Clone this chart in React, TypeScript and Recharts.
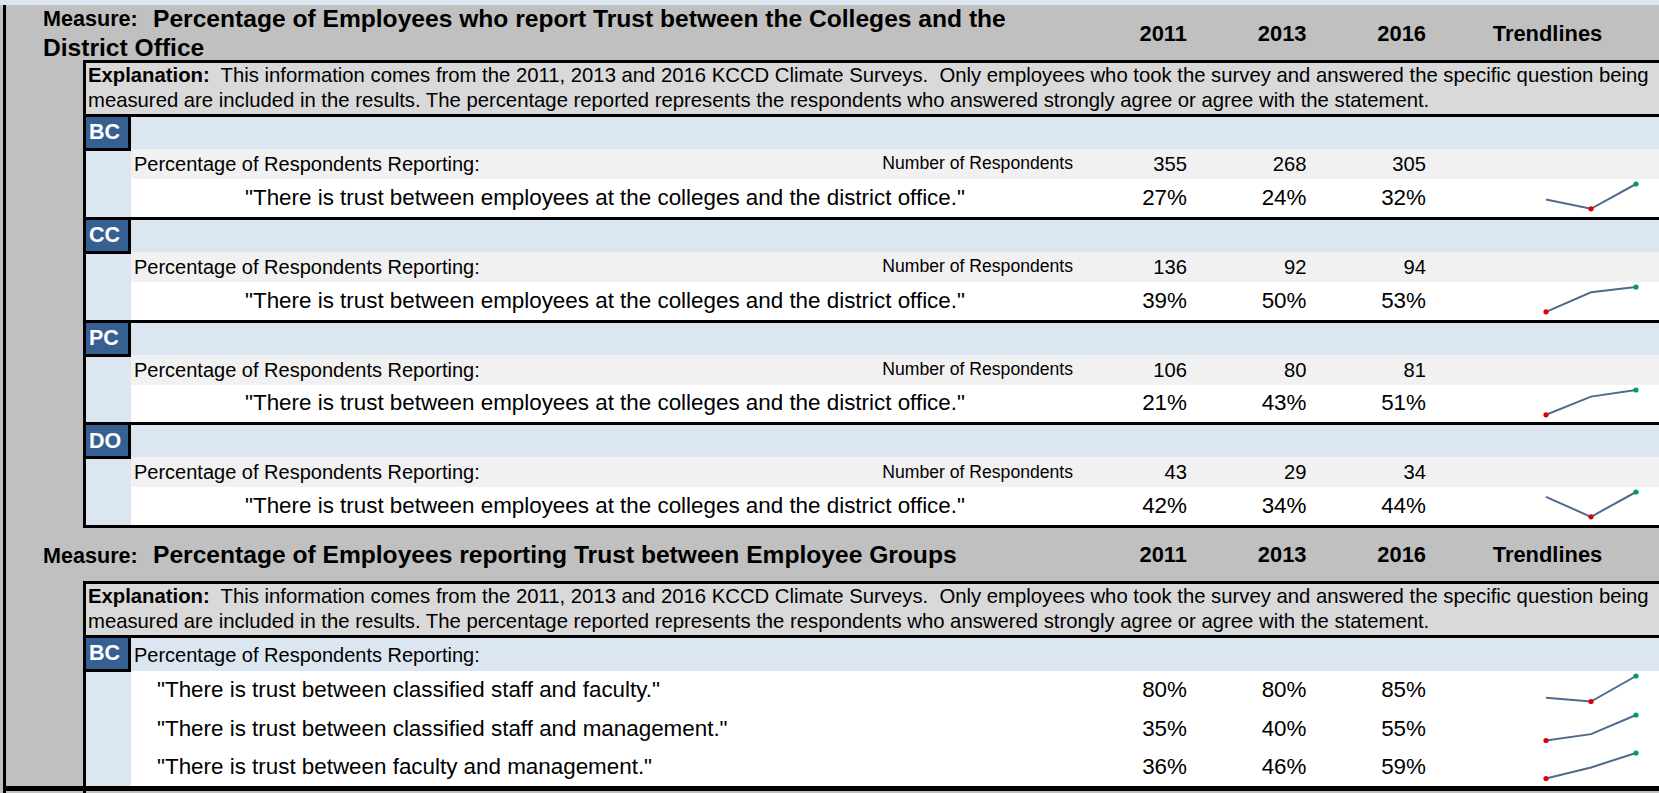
import React from "react";
import { LineChart, Line, XAxis, YAxis } from "recharts";

// survey years (column headers and sparkline categories)
const years = ["2011", "2013", "2016"];

// measure 1: trust between colleges and district office
const measure1Title = "Percentage of Employees who report Trust between the Colleges and the";
const measure1Title2 = "District Office";
const collegeCodes = ["BC", "CC", "PC", "DO"];
const bcRespondents = [355, 268, 305];
const ccRespondents = [136, 92, 94];
const pcRespondents = [106, 80, 81];
const doRespondents = [43, 29, 34];
const bcTrustDistrict = [27, 24, 32];
const ccTrustDistrict = [39, 50, 53];
const pcTrustDistrict = [21, 43, 51];
const doTrustDistrict = [42, 34, 44];
const districtStatement =
  "\"There is trust between employees at the colleges and the district office.\"";

// measure 2: trust between employee groups (BC only)
const measure2Title = "Percentage of Employees reporting Trust between Employee Groups";
const groupStatements = [
  "\"There is trust between classified staff and faculty.\"",
  "\"There is trust between classified staff and management.\"",
  "\"There is trust between faculty and management.\"",
];
const bcClassifiedFaculty = [80.4, 79.6, 85.2];
const bcClassifiedManagement = [35, 40, 55];
const bcFacultyManagement = [36, 46, 59];

const explanationLine1 =
  "This information comes from the 2011, 2013 and 2016 KCCD Climate Surveys.  Only employees who took the survey and answered the specific question being";
const explanationLine2 =
  "measured are included in the results. The percentage reported represents the respondents who answered strongly agree or agree with the statement.";

const respondentsByCollege = [bcRespondents, ccRespondents, pcRespondents, doRespondents];
const trustByCollege = [bcTrustDistrict, ccTrustDistrict, pcTrustDistrict, doTrustDistrict];
const groupValues = [bcClassifiedFaculty, bcClassifiedManagement, bcFacultyManagement];

const W = 1659;
const H = 793;
const FONT = '"Liberation Sans", Arial, Helvetica, sans-serif';
const GRAY = "#c0c0c0";
const EXPL = "#d9d9d9";
const LBLUE = "#dce6f1";
const DBLUE = "#366092";
const ROWGRAY = "#f1f1f1";
const BLACK = "#000";
const LINE = "#4f6a8f";

const NUM_R = [1187, 1306.5, 1426];
const TREND_C = 1547.5;
const SPARK_L = 1536;
const SPARK_W = 110;

function Rect({ x, y, w, h, bg }: { x: number; y: number; w: number; h: number; bg: string }) {
  return (
    <div style={{ position: "absolute", left: x, top: y, width: w, height: h, background: bg }} />
  );
}

function Txt({
  x,
  y,
  size,
  bold,
  align = "left",
  color = "#000",
  children,
}: {
  x: number;
  y: number;
  size: number;
  bold?: boolean;
  align?: "left" | "right" | "center";
  color?: string;
  children: React.ReactNode;
}) {
  const boxW = 1600;
  const left = align === "left" ? x : align === "right" ? x - boxW : x - boxW / 2;
  return (
    <div
      style={{
        position: "absolute",
        left,
        top: y - size / 2,
        width: boxW,
        height: size,
        lineHeight: `${size}px`,
        fontSize: size,
        fontWeight: bold ? 700 : 400,
        textAlign: align,
        whiteSpace: "pre",
        color,
        fontFamily: FONT,
      }}
    >
      {children}
    </div>
  );
}

function Spark({ y, h, values }: { y: number; h: number; values: number[] }) {
  const data = years.map((yr, i) => ({ year: yr, v: values[i] }));
  const lo = Math.min(...values);
  const hi = Math.max(...values);
  const renderDot = (props: any) => {
    const { cx, cy, index, payload } = props;
    const v = payload.v;
    const fill = v === hi ? "#00a050" : v === lo ? "#e00000" : null;
    if (!fill) return <g key={`d${index}`} />;
    return <circle key={`d${index}`} cx={cx} cy={cy} r={2.6} fill={fill} />;
  };
  return (
    <div style={{ position: "absolute", left: SPARK_L, top: y }}>
      <LineChart width={SPARK_W} height={h} data={data} margin={{ top: 5, right: 10, bottom: 8, left: 10 }}>
        <XAxis dataKey="year" hide scale="point" />
        <YAxis hide type="number" domain={[lo, hi]} />
        <Line
          type="linear"
          dataKey="v"
          stroke={LINE}
          strokeWidth={2}
          dot={renderDot}
          activeDot={false}
          isAnimationActive={false}
        />
      </LineChart>
    </div>
  );
}

function Label({ y, code }: { y: number; code: string }) {
  return (
    <>
      <Rect x={86} y={y} w={42} h={31} bg={DBLUE} />
      <Rect x={128} y={y} w={3} h={34} bg={BLACK} />
      <Rect x={86} y={y + 31} w={45} h={3} bg={BLACK} />
      <Txt x={89} y={y + 16} size={21.5} bold color="#fff">
        {code}
      </Txt>
    </>
  );
}

function Header({ y, children }: { y: number; children?: React.ReactNode }) {
  return (
    <>
      {children}
      {years.map((yr, i) => (
        <Txt key={yr} x={NUM_R[i]} y={y} size={21.9} bold align="right">
          {yr}
        </Txt>
      ))}
      <Txt x={TREND_C} y={y} size={21.9} bold align="center">
        Trendlines
      </Txt>
    </>
  );
}

function Explanation({ y }: { y: number }) {
  return (
    <>
      <Rect x={86} y={y} w={W - 86} h={3} bg={BLACK} />
      <Rect x={86} y={y + 3} w={W - 86} h={51} bg={EXPL} />
      <Rect x={86} y={y + 54} w={W - 86} h={3} bg={BLACK} />
      <Txt x={88} y={y + 15.5} size={20.3}>
        <b>Explanation:</b>
        {"  " + explanationLine1}
      </Txt>
      <Txt x={88} y={y + 40.5} size={20.3}>
        {explanationLine2}
      </Txt>
    </>
  );
}

function CollegeSection({ idx }: { idx: number }) {
  const S = 117 + idx * 102.8;
  const resp = respondentsByCollege[idx];
  const trust = trustByCollege[idx];
  return (
    <>
      <Rect x={86} y={S} w={W - 86} h={32} bg={LBLUE} />
      <Rect x={86} y={S + 32} w={45} h={68} bg={LBLUE} />
      <Rect x={131} y={S + 32} w={W - 131} h={30} bg={ROWGRAY} />
      <Rect x={131} y={S + 62} w={W - 131} h={37.8} bg="#fff" />
      <Rect x={83} y={S + 99.8} w={W - 83} h={3} bg={BLACK} />
      <Label y={S} code={collegeCodes[idx]} />
      <Txt x={134} y={S + 47} size={20}>
        Percentage of Respondents Reporting:
      </Txt>
      <Txt x={1073} y={S + 47} size={17.6} align="right">
        Number of Respondents
      </Txt>
      {resp.map((n, i) => (
        <Txt key={i} x={NUM_R[i]} y={S + 47} size={20.2} align="right">
          {String(n)}
        </Txt>
      ))}
      <Txt x={245} y={S + 81} size={22.4}>
        {districtStatement}
      </Txt>
      {trust.map((v, i) => (
        <Txt key={i} x={NUM_R[i]} y={S + 81} size={22.4} align="right">
          {`${Math.round(v)}%`}
        </Txt>
      ))}
      <Spark y={S + 62} h={37.8} values={trust} />
    </>
  );
}

function GroupSection() {
  const S = 638;
  const rowTops = [671, 709.5, 748];
  const rowH = 38.5;
  return (
    <>
      <Rect x={86} y={S} w={W - 86} h={33} bg={LBLUE} />
      <Rect x={86} y={S + 33} w={45} h={786 - S - 33} bg={LBLUE} />
      <Rect x={131} y={671} w={W - 131} h={786 - 671} bg="#fff" />
      <Label y={S} code="BC" />
      <Txt x={134} y={S + 16.5} size={20}>
        Percentage of Respondents Reporting:
      </Txt>
      {groupStatements.map((s, r) => (
        <React.Fragment key={r}>
          <Txt x={157} y={rowTops[r] + rowH / 2} size={22.4}>
            {s}
          </Txt>
          {groupValues[r].map((v, i) => (
            <Txt key={i} x={NUM_R[i]} y={rowTops[r] + rowH / 2} size={22.4} align="right">
              {`${Math.round(v)}%`}
            </Txt>
          ))}
          <Spark y={rowTops[r]} h={rowH} values={groupValues[r]} />
        </React.Fragment>
      ))}
    </>
  );
}

export default function App() {
  return (
    <div style={{ position: "relative", width: W, height: H, overflow: "hidden", background: GRAY, fontFamily: FONT }}>
      <style>{`body{margin:0}`}</style>
      <Rect x={0} y={0} w={W} h={5} bg={LBLUE} />
      <Rect x={3} y={5} w={3} h={H - 5} bg={BLACK} />

      {/* measure 1 header */}
      <Header y={33.5}>
        <Txt x={43} y={19} size={21.6} bold>
          Measure:
        </Txt>
        <Txt x={153} y={19} size={24.6} bold>
          {measure1Title}
        </Txt>
        <Txt x={43} y={48} size={24.6} bold>
          {measure1Title2}
        </Txt>
      </Header>
      <Rect x={83} y={60} w={3} h={528.2 - 60} bg={BLACK} />
      <Explanation y={60} />
      {collegeCodes.map((c, i) => (
        <CollegeSection key={c} idx={i} />
      ))}

      {/* measure 2 header */}
      <Header y={555}>
        <Txt x={43} y={555.5} size={21.6} bold>
          Measure:
        </Txt>
        <Txt x={153} y={555.5} size={24.6} bold>
          {measure2Title}
        </Txt>
      </Header>
      <Rect x={83} y={581} w={3} h={H - 581} bg={BLACK} />
      <Explanation y={581} />
      <GroupSection />
      <Rect x={3} y={786} w={W - 3} h={5} bg={BLACK} />
    </div>
  );
}
